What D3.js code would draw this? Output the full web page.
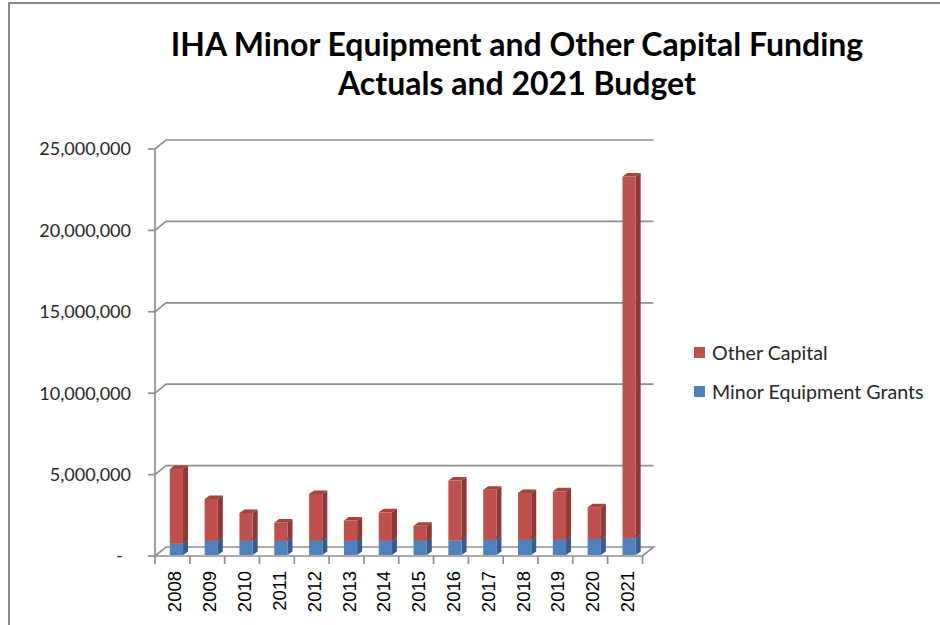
<!DOCTYPE html>
<html lang="en">
<head>
    <meta charset="utf-8">
    <title>IHA Minor Equipment and Other Capital Funding</title>
    <script src="https://d3js.org/d3.v7.min.js"></script>
<style>
    body { margin: 0; background: #fff; }
    #chart1 { width: 940px; height: 625px; }
    .axis-label { font-family: Lato, "Open Sans", sans-serif; font-size: 18px; fill: #262626; }
    .year-label { font-family: "Liberation Sans", Arial, sans-serif; font-size: 18.5px; fill: #000; }
    .legend-text { font-family: Lato, "Open Sans", sans-serif; font-size: 19.6px; fill: #262626; }
    .title { font-family: Lato, "Open Sans", sans-serif; font-weight: bold; font-size: 32px; fill: #000; }
</style>
</head>
<body>
<div id="chart1"></div>

<script>
    // data
    const years = ["2008","2009","2010","2011","2012","2013","2014","2015","2016","2017","2018","2019","2020","2021"]
    const minorEquipment = [700000, 880000, 880000, 880000, 880000, 880000, 880000, 880000, 900000, 940000, 940000, 940000, 990000, 1040000]
    const otherCapital = [4580000, 2560000, 1700000, 1120000, 2870000, 1240000, 1740000, 920000, 3670000, 3070000, 2870000, 2970000, 1950000, 22210000]
    const seriesKeys = ["minor", "other"]
    const seriesNames = ["Minor Equipment Grants", "Other Capital"]
    const yTicks = [0, 5000000, 10000000, 15000000, 20000000, 25000000]
    const titleLines = ["IHA Minor Equipment and Other Capital Funding", "Actuals and 2021 Budget"]

    const chartApp = {}

    chartApp.buildChart = () => {
        d3.select('#chart1').html('')

        var width = 940, height = 625
        // 3d offsets of the back wall and of the bar depth
        var wallDx = 11, wallDy = 9
        var barDx = 5, barDy = 3.5

        var svg = d3.select("#chart1")
            .append("svg")
            .attr("width", width)
            .attr("height", height)

        // chart area frame
        svg.append("rect")
            .attr("x", 9).attr("y", 3)
            .attr("width", 1000).attr("height", 1000)
            .attr("fill", "#fff")
            .attr("stroke", "#878787")
            .attr("stroke-width", 2)

        // title
        svg.append("g").selectAll("text")
            .data(titleLines)
            .enter().append("text")
            .attr("class", "title")
            .attr("x", 517)
            .attr("y", (d, i) => 56 + i * 39)
            .attr("text-anchor", "middle")
            .text(d => d)

        var table = years.map((yr, i) => ({ year: yr, minor: minorEquipment[i], other: otherCapital[i] }))
        var stackedData = d3.stack().keys(seriesKeys)(table)

        var slots = d3.scaleBand().domain(years).range([155, 642.5])
        var x = d3.scaleBand()
            .domain(years)
            .range([155, 642.5])
            .paddingInner(0.62)
            .paddingOuter(0.31)
        var y = d3.scaleLinear().domain([0, 25000000]).range([556, 149])

        var gridColor = "#8f8f8f"

        // floor
        var y0 = y(0)
        svg.append("path")
            .attr("d", "M155," + y0 + "L642.5," + y0 + "L" + (642.5 + wallDx) + "," + (y0 - wallDy) +
                "L" + (155 + wallDx) + "," + (y0 - wallDy) + "Z")
            .attr("fill", "#fff")
            .attr("stroke", gridColor)
            .attr("stroke-width", 1.7)

        // back wall gridlines + connectors
        var grid = svg.append("g")
        yTicks.filter(d => d > 0).forEach(function(v) {
            var yy = y(v)
            grid.append("path")
                .attr("d", "M155," + yy + "L" + (155 + wallDx) + "," + (yy - wallDy) + "L" + (642.5 + wallDx) + "," + (yy - wallDy))
                .attr("fill", "none")
                .attr("stroke", gridColor)
                .attr("stroke-width", 1.7)
        })

        // y axis line and ticks
        svg.append("line")
            .attr("x1", 155).attr("x2", 155)
            .attr("y1", y(25000000)).attr("y2", y0)
            .attr("stroke", gridColor).attr("stroke-width", 1.7)
        svg.append("g").selectAll("line")
            .data(yTicks)
            .enter().append("line")
            .attr("x1", 148).attr("x2", 155)
            .attr("y1", d => y(d)).attr("y2", d => y(d))
            .attr("stroke", gridColor).attr("stroke-width", 1.7)

        var fmt = d3.format(",")
        svg.append("g").selectAll("text")
            .data(yTicks)
            .enter().append("text")
            .attr("class", "axis-label")
            .attr("x", d => d === 0 ? 123 : 131)
            .attr("y", d => y(d))
            .attr("dy", "0.35em")
            .attr("text-anchor", "end")
            .text(d => d === 0 ? "-" : fmt(d))

        // x axis ticks
        var tickXs = years.map(d => slots(d)).concat([642.5])
        svg.append("g").selectAll("line")
            .data(tickXs)
            .enter().append("line")
            .attr("x1", d => d).attr("x2", d => d)
            .attr("y1", y0).attr("y2", y0 + 8)
            .attr("stroke", gridColor).attr("stroke-width", 1.7)

        svg.append("g").selectAll("text")
            .data(years)
            .enter().append("text")
            .attr("class", "year-label")
            .attr("transform", d => "translate(" + (slots(d) + slots.bandwidth() / 2 + 2.5) + "," + 571 + ") rotate(-90)")
            .attr("dy", "0.35em")
            .attr("text-anchor", "end")
            .text(d => d)

        // 3d columns
        var colors = {
            minor: { front: "#4F81BD", side: "#385D8A", top: "#4672A8" },
            other: { front: "#C0504D", side: "#8C3A38", top: "#A24340" }
        }
        var shift = 4

        stackedData.forEach(function(layer) {
            var c = colors[layer.key]
            var g = svg.append("g").attr("class", "layer-" + layer.key)
            layer.forEach(function(d) {
                var x0 = x(d.data.year) + shift, x1 = x0 + x.bandwidth()
                var yb = y(d[0]) - 1, yt = y(d[1]) - 1
                // side
                g.append("path")
                    .attr("d", "M" + x1 + "," + yb + "L" + (x1 + barDx) + "," + (yb - barDy) +
                        "L" + (x1 + barDx) + "," + (yt - barDy) + "L" + x1 + "," + yt + "Z")
                    .attr("fill", c.side)
                // top
                g.append("path")
                    .attr("d", "M" + x0 + "," + yt + "L" + x1 + "," + yt + "L" + (x1 + barDx) + "," + (yt - barDy) +
                        "L" + (x0 + barDx) + "," + (yt - barDy) + "Z")
                    .attr("fill", c.top)
                // front
                g.append("rect")
                    .attr("x", x0).attr("y", yt)
                    .attr("width", x.bandwidth()).attr("height", yb - yt)
                    .attr("fill", c.front)
            })
        })

        // legend (Other Capital on top)
        var legendOrder = [1, 0]
        var legend = svg.append("g").selectAll("g")
            .data(legendOrder)
            .enter().append("g")
            .attr("transform", (d, i) => "translate(694," + (347 + i * 39) + ")")
        legend.append("rect")
            .attr("width", 11).attr("height", 11)
            .attr("fill", d => colors[seriesKeys[d]].front)
        legend.append("text")
            .attr("class", "legend-text")
            .attr("x", 18)
            .attr("y", 13)
            .text(d => seriesNames[d])
    }

    chartApp.init = () => {
        chartApp.buildChart()
    }
    chartApp.init()
</script>
</body>
</html>
